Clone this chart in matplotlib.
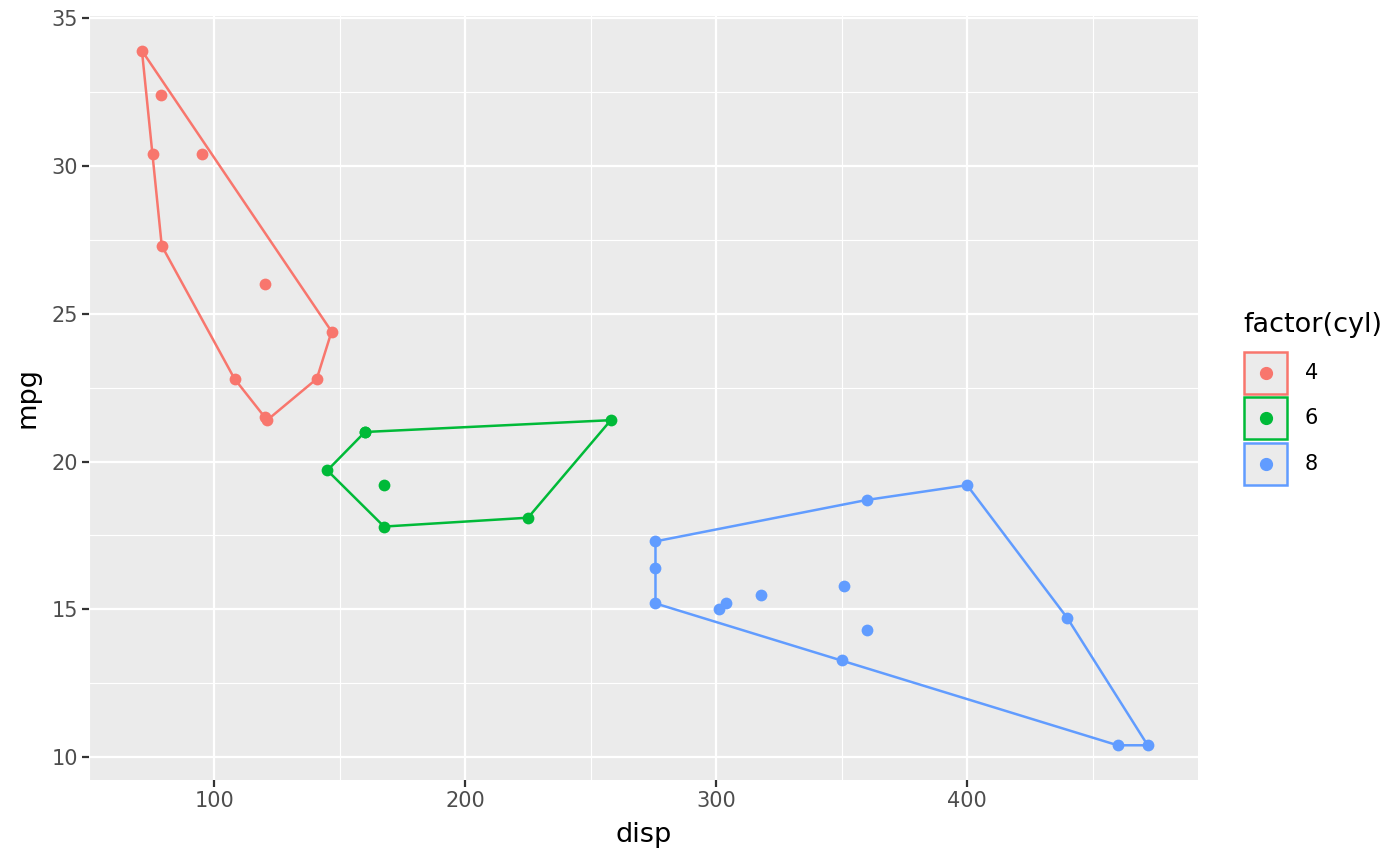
import matplotlib.pyplot as plt
from matplotlib.patches import Rectangle
import numpy as np

# mtcars: disp, mpg, cyl
disp = [160, 160, 108, 258, 360, 225, 360, 146.7, 140.8, 167.6, 167.6, 275.8, 275.8, 275.8,
        472, 460, 440, 78.7, 75.7, 71.1, 120.1, 318, 304, 350, 400, 79, 120.3, 95.1, 351, 145, 301, 121]
mpg = [21.0, 21.0, 22.8, 21.4, 18.7, 18.1, 14.3, 24.4, 22.8, 19.2, 17.8, 16.4, 17.3, 15.2,
       10.4, 10.4, 14.7, 32.4, 30.4, 33.9, 21.5, 15.5, 15.2, 13.3, 19.2, 27.3, 26.0, 30.4, 15.8, 19.7, 15.0, 21.4]
cyl = [6, 6, 4, 6, 8, 6, 8, 4, 4, 6, 6, 8, 8, 8, 8, 8, 8, 4, 4, 4, 4, 8, 8, 8, 8, 4, 4, 4, 8, 6, 8, 4]
groups = [4, 6, 8]
colors = ['#F8766D', '#00BA38', '#619CFF']

def hull(pts):
    pts = sorted(set(pts))
    def cross(o, a, b):
        return (a[0]-o[0])*(b[1]-o[1]) - (a[1]-o[1])*(b[0]-o[0])
    lower = []
    for p in pts:
        while len(lower) >= 2 and cross(lower[-2], lower[-1], p) <= 0:
            lower.pop()
        lower.append(p)
    upper = []
    for p in reversed(pts):
        while len(upper) >= 2 and cross(upper[-2], upper[-1], p) <= 0:
            upper.pop()
        upper.append(p)
    return lower[:-1] + upper[:-1]

fig = plt.figure(figsize=(14, 8.66), dpi=100)
ax = fig.add_axes([89/1400, 1-780/866, 1109/1400, 764/866])
ax.set_facecolor('#EBEBEB')
for s in ax.spines.values():
    s.set_visible(False)

d = np.array(disp); m = np.array(mpg); c = np.array(cyl)
for g, col in zip(groups, colors):
    sel = c == g
    h = hull(list(zip(d[sel], m[sel])))
    h = h + [h[0]]
    ax.plot([p[0] for p in h], [p[1] for p in h], color=col, lw=1.8, zorder=3)
    ax.scatter(d[sel], m[sel], color=col, s=72, zorder=4, linewidths=0)

ax.set_xlim(51.05, 492.05)
ax.set_ylim(9.225, 35.075)
ax.set_xticks([100, 200, 300, 400])
ax.set_yticks([10, 15, 20, 25, 30, 35])
ax.set_xticks([50, 150, 250, 350, 450], minor=True)
ax.set_yticks([12.5, 17.5, 22.5, 27.5, 32.5], minor=True)
ax.grid(which='major', color='white', lw=1.6)
ax.grid(which='minor', color='white', lw=0.8)
ax.set_axisbelow(True)
ax.tick_params(which='major', length=5, width=1.6, color='#333333', labelsize=15,
               labelcolor='#4D4D4D', pad=3)
ax.tick_params(which='minor', length=0)
ax.set_xlabel('disp', fontsize=19.5, labelpad=8)
ax.set_ylabel('mpg', fontsize=19.5, labelpad=8)

# legend
fig.text(1243/1400, 1-325/866, 'factor(cyl)', fontsize=19.5, va='center', ha='left')
tops = [351, 396, 442]
for g, col, t in zip(groups, colors, tops):
    fig.patches.append(Rectangle((1244/1400, 1-(t+43)/866), 43/1400, 42/866, transform=fig.transFigure,
                                 facecolor='#EBEBEB', edgecolor=col, lw=1.8))
    fig.lines.append(plt.Line2D([1266/1400], [1-(t+22)/866], transform=fig.transFigure,
                                marker='o', color=col, markersize=8.5, linestyle='none'))
    fig.text(1305/1400, 1-(t+22)/866, str(g), fontsize=15, va='center', ha='left')

fig.savefig('out.png', dpi=100)
